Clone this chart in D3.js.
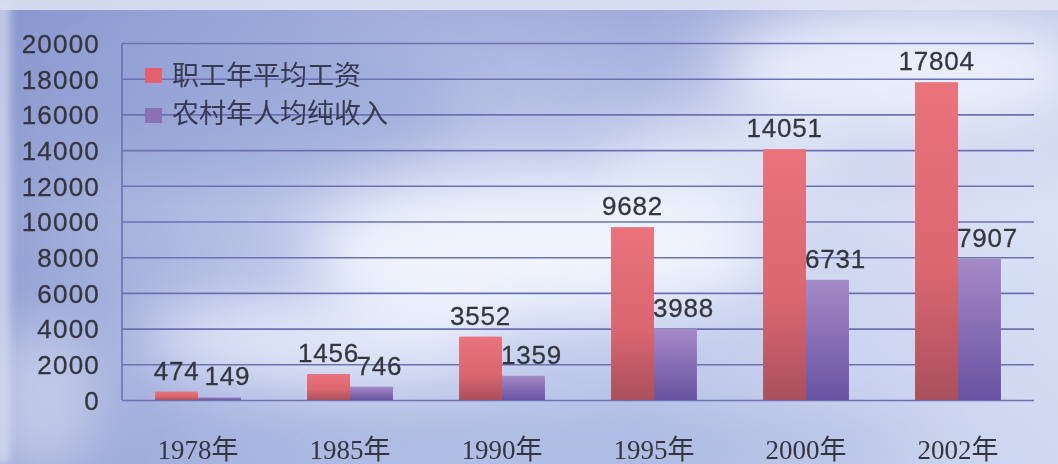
<!DOCTYPE html>
<html>
<head>
<meta charset="utf-8">
<script src="https://cdn.jsdelivr.net/npm/d3@7"></script>
<style>
  html, body { margin: 0; padding: 0; background: #c9d3ee; }
  svg { display: block; }
</style>
</head>
<body>
<div id="chart"></div>
<script>
var years = ["1978年", "1985年", "1990年", "1995年", "2000年", "2002年"];
var seriesNames = ["职工年平均工资", "农村年人均纯收入"];
var wages = [474, 1456, 3552, 9682, 14051, 17804];
var rural = [149, 746, 1359, 3988, 6731, 7907];
var yTicks = [0, 2000, 4000, 6000, 8000, 10000, 12000, 14000, 16000, 18000, 20000];

var W = 1058, H = 464;
var margin = {top: 43, right: 24, bottom: 64, left: 122};
var width = W - margin.left - margin.right,
    height = H - margin.top - margin.bottom;

var svg = d3.select("#chart").append("svg")
    .attr("width", W)
    .attr("height", H);

var defs = svg.append("defs");

// background
var bgV = defs.append("linearGradient").attr("id", "bgV")
    .attr("x1", 0).attr("y1", 0).attr("x2", 0).attr("y2", 1);
bgV.append("stop").attr("offset", "0%").attr("stop-color", "#9ea9da");
bgV.append("stop").attr("offset", "45%").attr("stop-color", "#c9d3ef");
bgV.append("stop").attr("offset", "100%").attr("stop-color", "#b6c2e8");

var bgH = defs.append("linearGradient").attr("id", "bgH")
    .attr("x1", 0).attr("y1", 0).attr("x2", 1).attr("y2", 0);
bgH.append("stop").attr("offset", "0%").attr("stop-color", "#7f8cc8").attr("stop-opacity", 0.7);
bgH.append("stop").attr("offset", "25%").attr("stop-color", "#8f9bd2").attr("stop-opacity", 0.25);
bgH.append("stop").attr("offset", "60%").attr("stop-color", "#ffffff").attr("stop-opacity", 0);
bgH.append("stop").attr("offset", "100%").attr("stop-color", "#eef3fb").attr("stop-opacity", 0.45);

defs.append("filter").attr("id", "blur")
    .attr("x", "-50%").attr("y", "-50%").attr("width", "200%").attr("height", "200%")
  .append("feGaussianBlur").attr("stdDeviation", 28);

defs.append("filter").attr("id", "blurSmall")
    .attr("x", "-50%").attr("y", "-50%").attr("width", "200%").attr("height", "200%")
  .append("feGaussianBlur").attr("stdDeviation", 5);

svg.append("rect").attr("width", W).attr("height", H).attr("fill", "url(#bgV)");
svg.append("rect").attr("width", W).attr("height", H).attr("fill", "url(#bgH)");

var clouds = svg.append("g").attr("filter", "url(#blur)");
clouds.append("ellipse").attr("cx", 540).attr("cy", 250).attr("rx", 230).attr("ry", 70)
    .attr("fill", "#f6f9ff").attr("opacity", 0.85);
clouds.append("ellipse").attr("cx", 900).attr("cy", 70).attr("rx", 180).attr("ry", 60)
    .attr("fill", "#f4f8ff").attr("opacity", 0.8);
clouds.append("ellipse").attr("cx", 320).attr("cy", 340).attr("rx", 180).attr("ry", 40)
    .attr("fill", "#f2f6fd").attr("opacity", 0.75);
clouds.append("ellipse").attr("cx", 720).attr("cy", 160).attr("rx", 120).attr("ry", 40)
    .attr("fill", "#eef3fc").attr("opacity", 0.6);
clouds.append("ellipse").attr("cx", 40).attr("cy", 400).attr("rx", 60).attr("ry", 80)
    .attr("fill", "#e3eaf7").attr("opacity", 0.55);
clouds.append("ellipse").attr("cx", 260).attr("cy", 110).attr("rx", 200).attr("ry", 70)
    .attr("fill", "#8794cf").attr("opacity", 0.35);
clouds.append("ellipse").attr("cx", 560).attr("cy", 445).attr("rx", 360).attr("ry", 30)
    .attr("fill", "#9eacdc").attr("opacity", 0.45);

// thin light strips at top and left edges
svg.append("rect").attr("width", W).attr("height", 10).attr("fill", "#dfe5f3").attr("opacity", 0.85);
svg.append("rect").attr("x", -6).attr("width", 16).attr("height", H)
    .attr("fill", "#dbe2f3").attr("opacity", 0.7).attr("filter", "url(#blurSmall)");

// bar gradients
var gRed = defs.append("linearGradient").attr("id", "gRed")
    .attr("x1", 0).attr("y1", 0).attr("x2", 0).attr("y2", 1);
gRed.append("stop").attr("offset", "0%").attr("stop-color", "#ea737c");
gRed.append("stop").attr("offset", "60%").attr("stop-color", "#da6670");
gRed.append("stop").attr("offset", "100%").attr("stop-color", "#a9505c");

var gPur = defs.append("linearGradient").attr("id", "gPur")
    .attr("x1", 0).attr("y1", 0).attr("x2", 0).attr("y2", 1);
gPur.append("stop").attr("offset", "0%").attr("stop-color", "#a48ac6");
gPur.append("stop").attr("offset", "100%").attr("stop-color", "#6952a2");

var g = svg.append("g")
    .attr("transform", "translate(" + margin.left + "," + margin.top + ")");

// scales
var x0 = d3.scaleBand()
    .domain(years)
    .range([0, width])
    .paddingInner(0.435)
    .paddingOuter(0.2175);

var x1 = d3.scaleBand()
    .domain([0, 1])
    .range([0, x0.bandwidth()]);

var y = d3.scaleLinear()
    .domain([0, 20000])
    .range([height, 0]);

// gridlines + y axis
var yAxis = g.append("g")
    .call(d3.axisLeft(y).tickValues(yTicks).tickSize(-width).tickPadding(22).tickFormat(d3.format("d")));
yAxis.select(".domain").remove();
yAxis.selectAll("line")
    .attr("stroke", "#6d70b3")
    .attr("stroke-width", 1.6);
yAxis.selectAll("text")
    .attr("fill", "#34363f")
    .attr("stroke", "#34363f")
    .attr("stroke-width", 0.3)
    .style("font-family", "'Liberation Sans', Arial, sans-serif")
    .style("font-size", "26px")
    .style("letter-spacing", "1.2px")
    .attr("dy", "0.36em");

// left vertical axis line
g.append("line")
    .attr("x1", 0).attr("x2", 0)
    .attr("y1", y(20000)).attr("y2", y(0))
    .attr("stroke", "#6d70b3")
    .attr("stroke-width", 1.6);

// x labels
var xAxis = g.append("g")
    .attr("transform", "translate(0," + height + ")")
    .call(d3.axisBottom(x0).tickSize(0).tickPadding(40));
xAxis.select(".domain").remove();
xAxis.selectAll("text")
    .attr("fill", "#34363f")
    .style("font-family", "'Liberation Serif', 'Times New Roman', 'Noto Sans CJK SC', serif")
    .style("font-size", "27px");

// bars
var rows = years.map(function(d, i) {
    return {year: d, vals: [wages[i], rural[i]]};
});
var fills = ["url(#gRed)", "url(#gPur)"];
var labelShift = [0, 8];

var groups = g.selectAll(".grp")
    .data(rows)
    .enter()
    .append("g")
    .attr("class", "grp")
    .attr("transform", function(d) { return "translate(" + x0(d.year) + ",0)"; });

groups.selectAll("rect")
    .data(function(d) { return d.vals; })
    .enter()
    .append("rect")
    .attr("x", function(d, i) { return x1(i); })
    .attr("y", function(d) { return y(d); })
    .attr("width", x1.bandwidth())
    .attr("height", function(d) { return y(0) - y(d); })
    .attr("fill", function(d, i) { return fills[i]; });

// value labels
groups.selectAll(".val")
    .data(function(d) { return d.vals; })
    .enter()
    .append("text")
    .attr("class", "val")
    .attr("x", function(d, i) { return x1(i) + x1.bandwidth() / 2 + labelShift[i]; })
    .attr("y", function(d) { return y(d) - 12; })
    .attr("text-anchor", "middle")
    .attr("fill", "#34363f")
    .attr("stroke", "#34363f")
    .attr("stroke-width", 0.3)
    .style("font-family", "'Liberation Sans', Arial, sans-serif")
    .style("font-size", "26px")
    .style("letter-spacing", "0.8px")
    .text(function(d) { return d; });

// legend
var legend = svg.append("g")
    .attr("transform", "translate(145,68)");
var legendColors = ["#e4606c", "#8a70b4"];
seriesNames.forEach(function(name, i) {
    var row = legend.append("g").attr("transform", "translate(0," + (i * 38) + ")");
    row.append("rect")
        .attr("width", 17).attr("height", 15)
        .attr("y", i === 0 ? 0 : 2)
        .attr("fill", legendColors[i]);
    row.append("text")
        .attr("x", 27).attr("y", 17)
        .attr("fill", "#363a52")
        .style("font-family", "'Noto Sans CJK SC', sans-serif")
        .style("font-size", "27px")
        .text(name);
});
</script>
</body>
</html>
